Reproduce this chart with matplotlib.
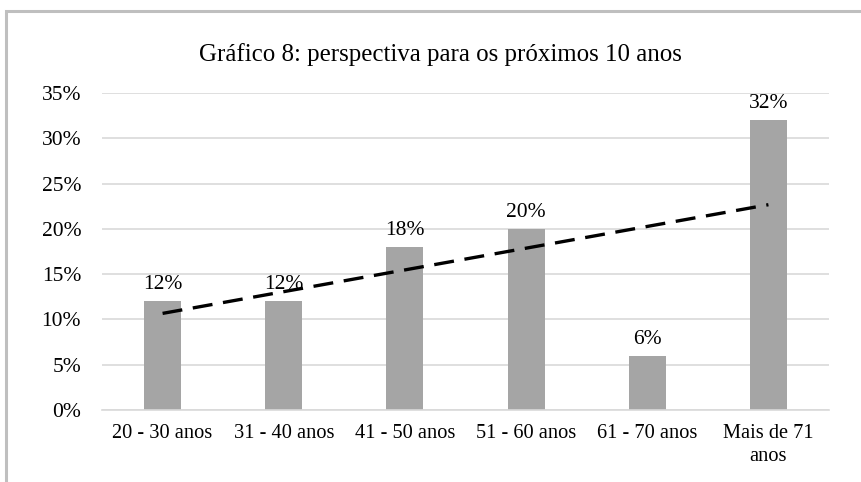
import numpy as np
import matplotlib as mpl
import matplotlib.pyplot as plt
from matplotlib.patches import Rectangle

mpl.rcParams['font.family'] = 'Liberation Serif'

categories = ['20 - 30 anos', '31 - 40 anos', '41 - 50 anos',
              '51 - 60 anos', '61 - 70 anos', 'Mais de 71\nanos']
values = [0.12, 0.12, 0.18, 0.20, 0.06, 0.32]
yticks = [0, 0.05, 0.10, 0.15, 0.20, 0.25, 0.30, 0.35]

fig = plt.figure(figsize=(8.61, 4.82), dpi=100)
ax = fig.add_axes([102/861, 1-410/482, (829-102)/861, (410-93)/482])

# frame around the chart area (clipped by the image edge like the original)
fig.patches.append(Rectangle((6/861, -0.1), 1.2, 1-11/482+0.1, transform=fig.transFigure,
                             fill=False, edgecolor='#BFBFBF', linewidth=2.2))

x = np.arange(1, len(values)+1)
ax.bar(x, values, width=0.305, color='#A5A5A5', zorder=2)

for xi, v in zip(x, values):
    ax.annotate('{:.0f}%'.format(v*100), (xi, v), xytext=(0, 5), textcoords='offset points',
                ha='center', va='bottom', fontsize=15.5, zorder=4)

# linear trendline
k, b = np.polyfit(x, values, 1)
ax.plot(x, k*x + b, color='black', linewidth=2.4, dashes=(6, 3.2), zorder=3)

ax.set_xlim(0.5, len(values)+0.5)
ax.set_ylim(0, 0.35)
ax.set_yticks(yticks)
ax.set_yticklabels(['{:.0f}%'.format(t*100) for t in yticks], fontsize=15.5)
ax.set_xticks(x)
ax.set_xticklabels(categories, fontsize=14.7, linespacing=1.3)
ax.tick_params(axis='both', length=0)
ax.tick_params(axis='y', pad=15)
ax.tick_params(axis='x', pad=10)
ax.grid(axis='y', color='#D9D9D9', linewidth=1.2, zorder=0)
for s in ['top', 'right', 'left']:
    ax.spines[s].set_visible(False)
ax.spines['bottom'].set_color('#D9D9D9')
ax.spines['bottom'].set_linewidth(1.2)

fig.text(440/861, 1-55/482, 'Gráfico 8: perspectiva para os próximos 10 anos',
         ha='center', va='center', fontsize=17.9)

plt.savefig('out.png', dpi=100)
